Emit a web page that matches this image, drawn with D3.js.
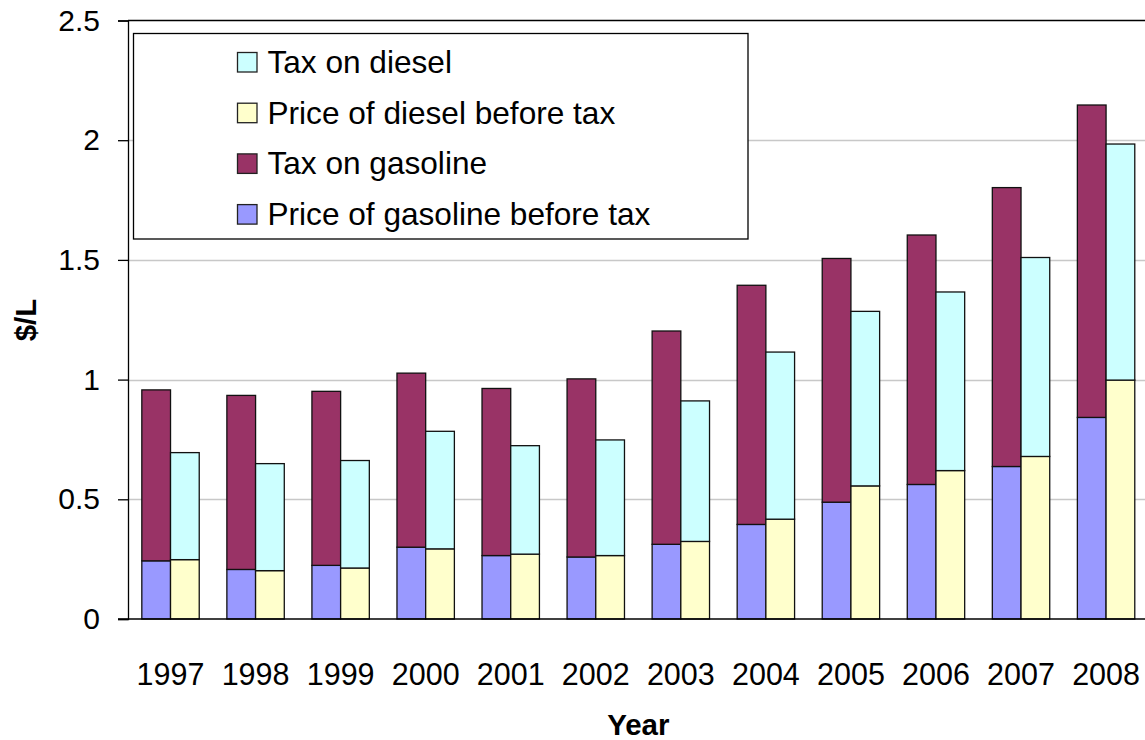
<!DOCTYPE html>
<html>
<head>
<meta charset="utf-8">
<script src="https://cdn.jsdelivr.net/npm/d3@7"></script>
<style>
  html, body { margin: 0; padding: 0; background: #fff; }
  svg { display: block; }
  text { font-family: "Liberation Sans", Arial, sans-serif; fill: #000; }
</style>
</head>
<body>
<svg id="chart" width="1145" height="740"></svg>
<script>
const years = ["1997","1998","1999","2000","2001","2002","2003","2004","2005","2006","2007","2008"];
const gasPrice   = [0.243, 0.207, 0.224, 0.300, 0.265, 0.259, 0.312, 0.395, 0.488, 0.562, 0.637, 0.842];
const gasTax     = [0.714, 0.727, 0.727, 0.727, 0.698, 0.744, 0.891, 0.999, 1.018, 1.042, 1.165, 1.305];
const dieselPrice = [0.248, 0.202, 0.213, 0.293, 0.271, 0.265, 0.324, 0.417, 0.556, 0.620, 0.679, 0.998];
const dieselTax   = [0.447, 0.447, 0.449, 0.491, 0.453, 0.483, 0.587, 0.698, 0.729, 0.746, 0.831, 0.986];
const yTicks = [0, 0.5, 1, 1.5, 2, 2.5];
const legendLabels = ["Tax on diesel", "Price of diesel before tax", "Tax on gasoline", "Price of gasoline before tax"];
const colors = {
  gasPrice: "#9999FF", gasTax: "#993366", dieselPrice: "#FFFFCC", dieselTax: "#CCFFFF"
};
const legendColors = [colors.dieselTax, colors.dieselPrice, colors.gasTax, colors.gasPrice];

const svg = d3.select("#chart");
const plot = { left: 128, right: 1148.6, top: 20.5, bottom: 619 };

const x = d3.scaleBand().domain(years).range([plot.left, plot.right])
  .paddingInner(0.325).paddingOuter(0.1625);
const sub = d3.scaleBand().domain(["gas", "diesel"]).range([0, x.bandwidth()]).padding(0);
const y = d3.scaleLinear().domain([0, 2.5]).range([plot.bottom, plot.top]);

// gridlines
svg.append("g").selectAll("line").data(yTicks.filter(v => v > 0 && v < 2.5)).join("line")
  .attr("x1", plot.left).attr("x2", plot.right)
  .attr("y1", d => Math.round(y(d)) + 0.5).attr("y2", d => Math.round(y(d)) + 0.5)
  .attr("stroke", "#c8c8c8").attr("stroke-width", 1.5);

// bars
const rows = years.map((yr, i) => ({ yr, gasPrice: gasPrice[i], gasTax: gasTax[i], dieselPrice: dieselPrice[i], dieselTax: dieselTax[i] }));
const segs = [];
rows.forEach(r => {
  segs.push({ yr: r.yr, s: "gas", y0: 0, y1: r.gasPrice, c: colors.gasPrice });
  segs.push({ yr: r.yr, s: "gas", y0: r.gasPrice, y1: r.gasPrice + r.gasTax, c: colors.gasTax });
  segs.push({ yr: r.yr, s: "diesel", y0: 0, y1: r.dieselPrice, c: colors.dieselPrice });
  segs.push({ yr: r.yr, s: "diesel", y0: r.dieselPrice, y1: r.dieselPrice + r.dieselTax, c: colors.dieselTax });
});
svg.append("g").selectAll("rect").data(segs).join("rect")
  .attr("x", d => x(d.yr) + sub(d.s))
  .attr("width", sub.bandwidth())
  .attr("y", d => y(d.y1))
  .attr("height", d => y(d.y0) - y(d.y1))
  .attr("fill", d => d.c)
  .attr("stroke", "#111").attr("stroke-width", 1.3);

// plot border top
svg.append("line").attr("x1", plot.left).attr("x2", plot.right + 5)
  .attr("y1", plot.top).attr("y2", plot.top).attr("stroke", "#000").attr("stroke-width", 1.3);

// y axis
const yAxis = d3.axisLeft(y).tickValues(yTicks).tickFormat(d3.format("")).tickSize(10).tickPadding(18);
const gy = svg.append("g").attr("transform", `translate(${plot.left},0)`).call(yAxis);
gy.select(".domain").attr("stroke", "#000").attr("stroke-width", 1.3);
gy.selectAll(".tick line").attr("stroke", "#000").attr("stroke-width", 1.3);
gy.selectAll(".tick text").attr("font-size", 30).attr("font-family", "Liberation Sans, Arial, sans-serif").attr("fill", "#000");

// x axis
const xAxis = d3.axisBottom(x).tickSize(0).tickPadding(0);
const gx = svg.append("g").attr("transform", `translate(0,${plot.bottom})`).call(xAxis);
gx.select(".domain").remove();
gx.selectAll(".tick text").attr("font-size", 30.5).attr("font-family", "Liberation Sans, Arial, sans-serif")
  .attr("fill", "#000").attr("dy", null).attr("y", 66);
svg.append("line").attr("x1", plot.left - 10).attr("x2", plot.right + 5)
  .attr("y1", plot.bottom).attr("y2", plot.bottom).attr("stroke", "#000").attr("stroke-width", 1.3);

// axis titles
svg.append("text").attr("x", (plot.left + plot.right) / 2).attr("y", 735)
  .attr("text-anchor", "middle").attr("font-size", 29.5).attr("font-weight", "bold").text("Year");
svg.append("text").attr("transform", "translate(36,320) rotate(-90)")
  .attr("text-anchor", "middle").attr("font-size", 29.5).attr("font-weight", "bold").text("$/L");

// legend
const lg = svg.append("g");
lg.append("rect").attr("x", 133.5).attr("y", 33.5).attr("width", 614.5).attr("height", 205.5)
  .attr("fill", "#fff").attr("stroke", "#000").attr("stroke-width", 1.3);
const items = lg.selectAll("g.item").data(legendLabels).join("g")
  .attr("transform", (d, i) => `translate(237.5,${52.5 + i * 50.7})`);
items.append("rect").attr("width", 19.5).attr("height", 19.5)
  .attr("fill", (d, i) => legendColors[i]).attr("stroke", "#222").attr("stroke-width", 1.3);
items.append("text").attr("x", 30).attr("y", 20.5).attr("font-size", 31.6).text(d => d);
</script>
</body>
</html>
